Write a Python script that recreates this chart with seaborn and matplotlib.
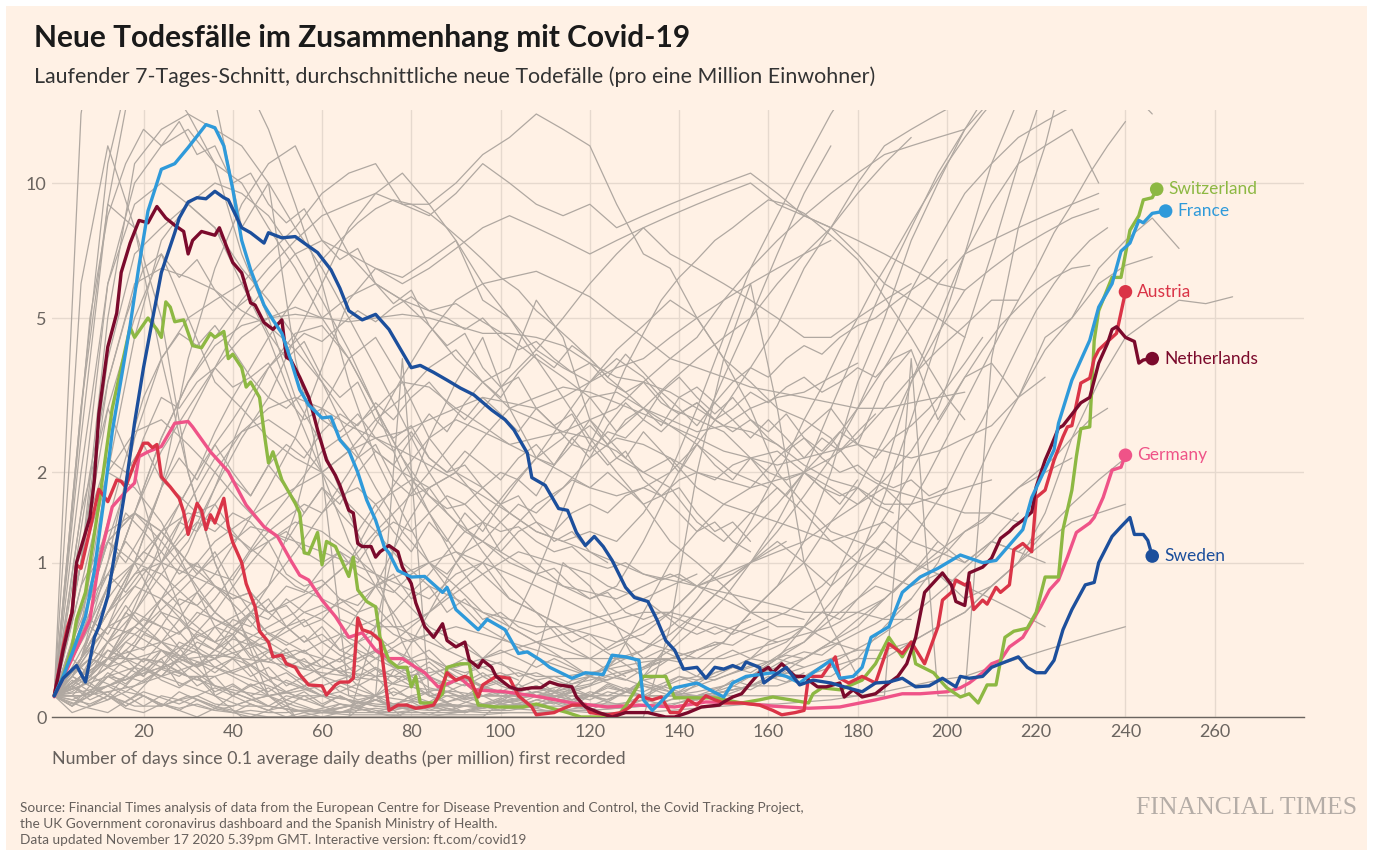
import numpy as np
import pandas as pd
import matplotlib
matplotlib.use('Agg')
import matplotlib.pyplot as plt
import seaborn as sns
from matplotlib.patches import Rectangle

# highlighted countries: (day, 7-day avg deaths per million)
switzerland = [(0, 0.1), (2, 0.2), (4, 0.37), (5, 0.55), (7, 0.75), (10, 1.6), (13, 3.0), (17, 4.75), (18, 4.5),
               (21, 5.0), (23, 4.7), (24, 4.5), (25, 5.45), (26, 5.3), (27, 4.9), (29, 4.95), (31, 4.3), (33, 4.25),
               (35, 4.6), (36, 4.5), (38, 4.65), (39, 4.0), (40, 4.1), (42, 3.8), (43, 3.4), (44, 3.5), (46, 3.2),
               (47, 2.6), (48, 2.13), (49, 2.29), (51, 1.9), (54, 1.61), (55, 1.5), (56, 1.09), (57, 1.08), (59, 1.29),
               (60, 0.98), (61, 1.2), (63, 1.15), (66, 0.88), (67, 1.05), (68, 0.77), (70, 0.68), (72, 0.64),
               (73, 0.43), (75, 0.29), (77, 0.25), (79, 0.25), (80, 0.145), (81, 0.2), (82, 0.065), (85, 0.065),
               (87, 0.11), (88, 0.25), (91, 0.27), (93, 0.27), (94, 0.13), (95, 0.055), (99, 0.046), (105, 0.046),
               (108, 0.06), (115, 0.02), (118, 0.0), (121, 0.0), (126, 0.0), (128, 0.05), (132, 0.2), (137, 0.2),
               (139, 0.09), (143, 0.09), (148, 0.09), (154, 0.065), (158, 0.08), (161, 0.094), (165, 0.08),
               (169, 0.065), (170, 0.11), (172, 0.14), (176, 0.13), (181, 0.18), (184, 0.27), (187, 0.43),
               (190, 0.31), (192, 0.4), (193, 0.27), (197, 0.22), (199, 0.165), (200, 0.14), (203, 0.094),
               (205, 0.11), (207, 0.065), (209, 0.155), (211, 0.155), (213, 0.43), (215, 0.47), (218, 0.49),
               (220, 0.6), (222, 0.875), (225, 0.875), (226, 1.32), (228, 1.77), (229, 2.22), (230, 2.65),
               (232, 2.68), (233, 4.43), (234, 5.2), (237, 6.2), (239, 6.2), (240, 7.0), (241, 7.9), (243, 8.5),
               (244, 9.2), (246, 9.3), (247, 9.7)]

france = [(0, 0.1), (2, 0.2), (4, 0.33), (7, 0.57), (9, 0.93), (11, 1.6), (13, 2.6), (17, 4.8), (19, 6.6),
          (21, 8.7), (24, 10.7), (27, 11.0), (30, 11.9), (34, 13.3), (36, 13.1), (38, 12.0), (40, 9.7), (42, 7.5),
          (44, 6.45), (47, 5.36), (49, 4.95), (51, 4.6), (53, 3.97), (55, 3.35), (57, 3.06), (60, 2.83),
          (62, 2.85), (64, 2.47), (66, 2.31), (68, 2.0), (70, 1.65), (72, 1.42), (74, 1.14), (75, 1.09),
          (77, 0.93), (80, 0.875), (83, 0.88), (87, 0.75), (88, 0.79), (90, 0.62), (95, 0.48), (97, 0.55),
          (101, 0.48), (104, 0.33), (106, 0.34), (109, 0.29), (111, 0.25), (116, 0.19), (119, 0.22), (123, 0.21),
          (125, 0.32), (128, 0.31), (131, 0.29), (132, 0.08), (134, 0.03), (137, 0.094), (139, 0.14),
          (144, 0.165), (146, 0.14), (150, 0.094), (152, 0.165), (155, 0.2), (161, 0.22), (164, 0.2),
          (167, 0.165), (170, 0.22), (174, 0.29), (176, 0.19), (179, 0.2), (181, 0.25), (183, 0.43), (187, 0.5),
          (190, 0.75), (194, 0.875), (198, 0.95), (203, 1.07), (208, 1.0), (211, 1.02), (217, 1.32), (219, 1.68),
          (224, 2.32), (225, 2.74), (228, 3.54), (232, 4.43), (234, 5.3), (237, 6.0), (239, 7.1), (241, 7.4),
          (243, 8.3), (244, 8.2), (246, 8.6), (249, 8.7)]

austria = [(0, 0.1), (2, 0.37), (3, 0.5), (4, 0.6), (5, 0.98), (6, 0.95), (8, 1.32), (10, 1.78), (12, 1.63),
           (14, 1.9), (15, 1.88), (16, 1.81), (18, 2.13), (20, 2.42), (21, 2.42), (22, 2.35), (23, 2.4), (24, 1.94),
           (26, 1.81), (28, 1.67), (29, 1.51), (30, 1.27), (32, 1.61), (33, 1.53), (34, 1.32), (35, 1.48),
           (36, 1.39), (38, 1.67), (39, 1.35), (40, 1.19), (42, 1.0), (43, 0.82), (45, 0.64), (46, 0.47),
           (48, 0.4), (49, 0.31), (51, 0.32), (52, 0.27), (54, 0.25), (55, 0.21), (57, 0.155), (60, 0.15),
           (61, 0.104), (63, 0.155), (64, 0.17), (66, 0.17), (67, 0.19), (68, 0.56), (69, 0.48), (71, 0.46),
           (73, 0.41), (75, 0.03), (77, 0.055), (79, 0.055), (81, 0.04), (83, 0.046), (85, 0.055), (86, 0.094),
           (88, 0.22), (90, 0.18), (92, 0.2), (93, 0.19), (95, 0.094), (96, 0.155), (99, 0.2), (102, 0.19),
           (104, 0.1), (107, 0.046), (108, 0.01), (112, 0.02), (113, 0.03), (116, 0.055), (119, 0.055),
           (120, 0.02), (124, 0.01), (127, 0.02), (129, 0.046), (131, 0.1), (134, 0.08), (136, 0.094), (138, 0.02),
           (140, 0.02), (142, 0.08), (144, 0.055), (146, 0.1), (148, 0.08), (150, 0.065), (154, 0.065),
           (158, 0.055), (161, 0.03), (163, 0.01), (166, 0.02), (168, 0.03), (169, 0.2), (172, 0.2), (175, 0.31),
           (176, 0.19), (178, 0.165), (181, 0.2), (184, 0.165), (187, 0.39), (190, 0.33), (192, 0.4), (195, 0.27),
           (198, 0.5), (199, 0.69), (201, 0.75), (202, 0.85), (204, 0.81), (205, 0.83), (206, 0.62), (208, 0.69),
           (209, 0.66), (211, 0.79), (212, 0.75), (214, 0.81), (215, 1.12), (217, 1.18), (219, 1.1), (220, 1.68),
           (222, 1.77), (224, 2.17), (226, 2.52), (227, 2.68), (228, 2.7), (230, 3.48), (232, 3.58), (233, 4.0),
           (234, 4.2), (236, 4.4), (238, 4.6), (240, 5.75)]

netherlands = [(0, 0.1), (2, 0.35), (4, 0.6), (5, 1.0), (8, 1.45), (9, 1.9), (10, 2.9), (12, 4.27), (14, 5.13),
               (15, 6.36), (17, 7.4), (19, 8.3), (21, 8.2), (23, 8.9), (25, 8.4), (27, 8.1), (29, 7.85), (30, 7.0),
               (31, 7.5), (33, 7.85), (36, 7.7), (37, 8.0), (39, 7.1), (40, 6.7), (42, 6.35), (44, 5.42),
               (45, 5.36), (47, 4.88), (49, 4.7), (51, 4.95), (52, 4.03), (53, 3.97), (55, 3.6), (57, 3.21),
               (58, 2.92), (59, 2.63), (61, 2.17), (63, 1.96), (64, 1.83), (66, 1.53), (67, 1.5), (68, 1.18),
               (69, 1.15), (71, 1.15), (72, 1.05), (73, 1.1), (75, 1.16), (77, 1.1), (78, 0.96), (80, 0.82),
               (81, 0.67), (83, 0.5), (85, 0.43), (87, 0.52), (88, 0.41), (90, 0.37), (92, 0.4), (93, 0.29),
               (95, 0.25), (96, 0.29), (98, 0.25), (99, 0.2), (102, 0.145), (104, 0.13), (107, 0.14), (109, 0.14),
               (111, 0.17), (113, 0.155), (116, 0.145), (117, 0.094), (119, 0.046), (122, 0.02), (125, 0.0),
               (128, 0.02), (133, 0.02), (137, 0.0), (139, 0.0), (142, 0.02), (145, 0.046), (149, 0.055), (150, 0.07),
               (152, 0.094), (154, 0.11), (156, 0.165), (158, 0.22), (160, 0.25), (161, 0.22), (163, 0.27),
               (166, 0.2), (168, 0.2), (169, 0.18), (171, 0.145), (173, 0.145), (176, 0.165), (177, 0.094),
               (179, 0.13), (181, 0.094), (184, 0.11), (187, 0.165), (189, 0.2), (191, 0.27), (193, 0.43),
               (195, 0.75), (199, 0.91), (201, 0.81), (202, 0.68), (204, 0.65), (205, 0.91), (208, 0.96),
               (210, 1.04), (212, 1.23), (214, 1.3), (215, 1.35), (217, 1.42), (219, 1.51), (220, 1.81), (222, 2.17),
               (223, 2.32), (225, 2.66), (226, 2.7), (230, 3.1), (232, 3.2), (234, 3.9), (236, 4.36), (237, 4.7),
               (238, 4.77), (240, 4.5), (242, 4.4), (243, 3.9), (244, 3.97), (246, 4.0)]

germany = [(0, 0.095), (4, 0.3), (8, 0.55), (10, 1.0), (13, 1.57), (16, 1.75), (18, 1.86), (19, 2.22), (21, 2.29),
           (24, 2.37), (27, 2.74), (30, 2.77), (31, 2.68), (35, 2.29), (39, 2.01), (43, 1.59), (47, 1.35),
           (50, 1.25), (53, 1.02), (55, 0.89), (57, 0.85), (60, 0.69), (63, 0.57), (66, 0.43), (69, 0.46),
           (72, 0.35), (75, 0.3), (78, 0.3), (81, 0.25), (83, 0.22), (86, 0.145), (88, 0.16), (91, 0.19),
           (94, 0.13), (101, 0.12), (109, 0.094), (116, 0.065), (124, 0.046), (131, 0.055), (139, 0.046),
           (146, 0.07), (154, 0.065), (161, 0.05), (169, 0.04), (176, 0.046), (184, 0.08), (190, 0.11),
           (194, 0.11), (200, 0.12), (203, 0.14), (205, 0.165), (208, 0.22), (210, 0.27), (212, 0.29), (214, 0.37),
           (217, 0.43), (219, 0.53), (221, 0.64), (223, 0.77), (225, 0.85), (227, 1.05), (229, 1.29), (232, 1.39),
           (233, 1.45), (235, 1.68), (237, 2.03), (239, 2.07), (240, 2.24)]

sweden = [(0, 0.1), (2, 0.19), (5, 0.26), (7, 0.17), (9, 0.43), (10, 0.5), (12, 0.72), (14, 1.2), (16, 1.81),
          (18, 2.75), (20, 3.8), (22, 4.95), (24, 6.36), (27, 7.8), (28, 8.4), (30, 9.1), (32, 9.3), (34, 9.25),
          (36, 9.6), (38, 9.3), (39, 9.2), (42, 8.0), (44, 7.8), (47, 7.4), (48, 7.8), (51, 7.6), (54, 7.65),
          (56, 7.4), (59, 7.05), (62, 6.45), (64, 5.86), (66, 5.2), (69, 4.95), (72, 5.1), (75, 4.7), (80, 3.8),
          (82, 3.85), (85, 3.7), (88, 3.54), (91, 3.38), (94, 3.25), (98, 2.97), (101, 2.8), (103, 2.63),
          (106, 2.27), (107, 1.93), (110, 1.83), (113, 1.55), (115, 1.53), (117, 1.29), (119, 1.16), (121, 1.25),
          (123, 1.15), (125, 1.02), (128, 0.79), (130, 0.71), (133, 0.68), (135, 0.55), (137, 0.41), (139, 0.35),
          (141, 0.24), (144, 0.25), (146, 0.19), (148, 0.25), (150, 0.24), (152, 0.26), (154, 0.24), (155, 0.28),
          (158, 0.25), (159, 0.165), (161, 0.2), (164, 0.25), (167, 0.155), (170, 0.18), (174, 0.165),
          (177, 0.145), (181, 0.12), (184, 0.165), (187, 0.17), (190, 0.19), (193, 0.145), (196, 0.15),
          (199, 0.19), (202, 0.145), (203, 0.2), (205, 0.19), (208, 0.2), (210, 0.25), (212, 0.27), (214, 0.29),
          (216, 0.31), (218, 0.25), (220, 0.22), (222, 0.22), (224, 0.29), (226, 0.48), (228, 0.62), (231, 0.81),
          (233, 0.83), (234, 1.0), (237, 1.25), (239, 1.35), (241, 1.45), (242, 1.27), (244, 1.27), (245, 1.21),
          (246, 1.06)]

highlight_names = ['Switzerland', 'France', 'Austria', 'Netherlands', 'Germany', 'Sweden']
highlight_colors = ['#8db843', '#2f9ada', '#da3447', '#7b0a2c', '#ef5388', '#1c4f9c']

# other countries, one value every 6 days from day 0
bg_step = 6
bg_01 = [0.1, 2.5, 9, 18, 24, 26, 22, 17, 13, 9, 6, 3.5, 2.2, 1.5, 1.0, 0.7, 0.5, 0.4, 0.35, 0.3, 0.3, 0.4, 0.5,
         0.6, 0.8, 0.9, 1.0, 1.1, 1.2, 1.4, 1.6, 1.9, 2.3, 3.0, 4.5, 7, 11, 16, 19, 18, 16, 14]
bg_02 = [0.1, 3, 11, 19, 17, 14, 11, 7, 5, 3.2, 2.4, 1.5, 0.9, 0.4, 0.1, 0.05, 0.1, 0.1, 0.1, 0.1, 0.15, 0.3, 0.6,
         1.0, 1.3, 1.6, 1.8, 2.2, 2.6, 3.0, 2.4, 3.5, 4.2, 2.8, 3.6, 3.9, 3.2, 4.5, 5.0, 6.5, 7.5, 8.4, 7.2]
bg_03 = [0.1, 1.5, 6, 10, 12, 13, 11, 10, 8, 6.5, 5, 4, 3, 2.2, 1.5, 1.0, 0.7, 0.5, 0.4, 0.3, 0.2, 0.15, 0.1, 0.1,
         0.1, 0.12, 0.15, 0.15, 0.2, 0.2, 0.3, 0.3, 0.4, 0.5, 0.6, 0.8, 1.0, 1.5, 2.5, 3.5, 4.5, 5.0, 5.5, 5.4, 5.6]
bg_04 = [0.1, 1, 5, 11, 13, 14, 13, 12, 10, 8, 6.5, 5, 3.8, 2.8, 2.0, 1.5, 1.1, 0.8, 0.6, 0.4, 0.3, 0.2, 0.15, 0.12,
         0.1, 0.12, 0.15, 0.2, 0.2, 0.25, 0.3, 0.5, 0.7, 1.0, 1.6, 2.4, 3.2, 4.2, 5.0, 6.0, 6.6, 6.9]
bg_05 = [0.1, 14, 30, 30, 20, 25, 15, 8, 10, 4, 2, 0.1, 0.1, 4, 0.1, 0.1, 0.1, 0.1, 0.1, 0.1, 0.1, 0.1, 0.1, 0.1,
         0.1, 0.1, 0.1, 0.1, 0.1, 0.1, 0.1, 0.1, 4, 0.1, 0.1, 4, 8, 12, 20, 15, 25, 30]
bg_06 = [0.1, 1, 4, 7, 8, 9, 8, 6, 4.5, 3, 2, 1.2, 0.8, 0.5, 0.3, 0.2, 0.15, 0.1, 0.1, 0.05, 0.05, 0.05, 0.1, 0.1,
         0.15, 0.2, 0.25, 0.3, 0.5, 0.8, 1.0, 1.2, 1.0, 0.9, 0.7, 0.8, 1.0, 1.3, 1.6, 1.9, 2.2]
bg_10 = [0.1, 0.3, 1.0, 2.5, 4, 5, 5.5, 6, 7, 8, 9.5, 10.5, 11, 9, 9, 10, 11.5, 12.5, 14, 13, 12, 9, 7, 6.5, 5, 4,
         3.5, 3, 2.8, 2.5, 2.0, 1.8, 1.7, 1.6, 1.5, 1.5, 1.4]
bg_11 = [0.1, 0.3, 0.8, 1.5, 2.5, 3.5, 4.3, 4.8, 5.0, 5.1, 5.0, 4.9, 5.0, 5.1, 5.0, 4.8, 4.6, 4.6, 4.5, 4.3, 3.9,
         3.6, 3.5, 3.3, 3.0, 2.7, 2.6, 2.4, 2.1, 1.9, 1.8, 1.6, 1.6, 1.7, 1.8, 1.9]
bg_12 = [0.1, 0.3, 0.8, 1.5, 2.3, 3.0, 3.8, 4.5, 5.0, 5.3, 5.0, 5.6, 6.0, 5.5, 5.2, 5.4, 4.9, 4.5, 4.0, 3.6, 3.2,
         3.3, 3.0, 2.8, 2.6, 2.7, 3.0, 3.2, 3.3, 3.6, 3.9]
bg_13 = [0.1, 0.3, 0.6, 1.0, 1.8, 4, 6.5, 9, 11, 12, 9, 7, 6, 5.5, 4.8, 4.0, 3.5, 3.0, 2.8, 2.6, 2.5, 2.3, 2.0,
         2.2, 1.8, 1.6, 1.5, 1.4, 1.3, 1.2, 1.3, 1.4, 1.2, 1.1, 1.0, 1.2, 1.1, 1.0]
bg_14 = [0.1, 0.2, 0.4, 0.6, 0.9, 1.2, 1.8, 2.5, 3.2, 4.5, 6, 8, 9.5, 10.5, 9, 7.5, 6, 5, 4, 3.2, 2.5, 2.0, 1.6,
         1.2, 1.0, 0.8, 0.6, 0.5, 0.5, 0.4, 0.35]
bg_15 = [0.1, 1, 3, 5, 7, 5, 3.5, 3, 2.5, 2.2, 2.0, 2.3, 2.8, 3.2, 3.8, 4.2, 3.5, 3.8, 5.5, 4.5, 2.8, 2.2, 2.0, 1.8,
         1.4, 1.2, 1.5, 1.8, 1.5, 1.2, 1.0, 0.9, 0.8, 0.9, 0.8, 0.7, 0.6, 0.5]
bg_16 = [0.1, 0.1, 0.15, 0.2, 0.3, 0.4, 0.5, 0.6, 0.8, 1.1, 1.5, 2.0, 2.7, 3.6, 4.6, 5.5, 6.0, 6.2, 6.4, 6.0, 5.6,
         5.0, 4.5, 4.0, 3.8, 3.6, 3.4, 3.3, 3.2, 3.1, 3.0, 3.0, 3.1, 3.2, 3.3]
bg_17 = [0.1, 0.1, 0.12, 0.15, 0.2, 0.25, 0.3, 0.4, 0.5, 0.6, 0.8, 1.0, 1.3, 1.6, 2.0, 2.5, 3.0, 3.6, 4.2, 5, 6, 7,
         8, 8.5, 9, 9.5, 10, 9, 8.5, 8.0, 7.5, 7.0, 6.5, 6.0, 5.8]
bg_18 = [0.1, 1.0, 3.5, 6.0, 6.5, 6.2, 5.8, 5.2, 4.8, 4.2, 3.5, 2.8, 2.3, 2.0, 1.8, 2.0, 2.5, 3.0, 3.2, 3.4, 3.3,
         3.1, 2.9, 2.7, 2.5, 2.3, 2.2, 2.1, 2.2, 2.3, 2.4, 2.3, 2.2, 2.3, 2.5, 2.7, 3.2, 3.6]
bg_19 = [0.1, 0.6, 1.2, 1.5, 1.3, 1.0, 0.9, 1.3, 1.8, 2.5, 3.8, 5.5, 6.5, 6.2, 6.8, 7.5, 5.5, 5.0, 4.2, 3.8, 3.5,
         4.0, 3.6, 3.0, 2.8, 2.6, 2.2, 2.3, 2.0, 1.8, 1.6, 1.8, 1.5, 1.2, 1.0, 1.2, 1.1, 1.3]
bg_20 = [0.1, 0.2, 0.3, 0.35, 0.4, 0.5, 0.7, 1.0, 1.4, 1.8, 2.3, 2.6, 3.0, 3.5, 3.4, 3.0, 2.7, 2.4, 2.2, 2.0, 1.8,
         1.7, 1.8, 2.0, 2.4, 3.0, 3.8, 4.8, 6.5, 8.0, 9.5, 11, 12.5]
bg_21 = [0.1, 0.3, 0.6, 1.0, 1.3, 1.5, 1.4, 1.2, 1.0, 0.8, 0.7, 0.6, 0.5, 0.5, 0.6, 0.8, 1.0, 1.3, 1.6, 1.8, 2.2,
         2.5, 2.4, 2.2, 2.0, 1.9, 1.8, 1.9, 2.0, 2.2, 2.5, 3.0, 3.6, 4.2, 4.8, 5.5, 5.5]
bg_22 = [0.1, 0.15, 0.2, 0.25, 0.2, 0.15, 0.1, 0.05, 0.05, 0.03, 0.03, 0.02, 0.02, 0.02, 0.02, 0.02, 0.03, 0.03,
         0.05, 0.05, 0.05, 0.05, 0.05, 0.05, 0.1, 0.15, 0.2, 0.3, 0.4, 0.6, 1.0, 1.7, 2.8, 4.5, 7, 11, 15, 19, 22, 23]
bg_24 = [0.1, 0.2, 0.3, 0.3, 0.35, 0.3, 0.25, 0.2, 0.15, 0.1, 0.1, 0.08, 0.06, 0.05, 0.05, 0.05, 0.06, 0.08, 0.1,
         0.12, 0.15, 0.2, 0.25, 0.35, 0.5, 0.7, 1.0, 1.4, 2.0, 3.0, 4.3, 6.0, 8.0, 10.5, 13, 15]
bg_25 = [0.1, 0.3, 0.6, 0.9, 1.0, 0.9, 0.8, 0.7, 0.6, 0.7, 0.8, 1.0, 1.5, 2.0, 2.5, 2.8, 2.6, 2.4, 2.5, 2.6, 2.8,
         3.0, 3.5, 4.0, 4.5, 5.5, 6.5, 7.5, 8.5, 9.5, 10.5, 11.5, 12.0, 12.5, 13]
bg_26 = [0.1, 0.1, 0.15, 0.2, 0.25, 0.2, 0.2, 0.25, 0.3, 0.35, 0.3, 0.5, 0.8, 1.3, 1.8, 2.0, 1.8, 1.5, 1.3, 1.2,
         1.3, 1.2, 1.5, 2.0, 3.0, 4.5, 6.5, 8.5, 11, 14, 17]
bg_27 = [0.1, 1.0, 2.0, 1.8, 1.4, 0.9, 0.5, 0.3, 0.1, 0.05, 0.02, 0.05, 0.1, 0.2, 0.1, 0.05, 0.05, 0.1, 0.15, 0.1,
         0.2, 0.3, 0.2, 0.3, 0.3, 0.4, 0.6, 0.8, 1.2, 2.0, 3.5, 5.0, 7.5, 10, 13, 16, 20]
bg_28 = [0.1, 0.8, 2.0, 2.6, 2.8, 2.4, 2.0, 1.6, 1.3, 1.2, 1.1, 1.0, 0.9, 0.8, 0.7, 0.9, 1.0, 0.7, 0.6, 0.5, 0.4,
         0.3, 0.3, 0.3, 0.35, 0.4, 0.6, 0.8, 1.0, 1.4, 1.8, 2.5, 3.5, 4.6, 5.8, 6.5, 7.2, 7.8, 8.4, 8.8]
bg_29 = [0.1, 0.3, 0.5, 0.6, 0.5, 0.3, 0.15, 0.1, 0.05, 0.03, 0.03, 0.05, 0.1, 0.3, 0.6, 1.0, 1.4, 1.8, 2.2, 2.8,
         3.5, 4.2, 4.8, 5.5, 5.0, 4.0, 3.0, 2.0, 1.6, 1.3, 1.2, 1.1, 1.0]
bg_30 = [0.1, 0.5, 1.2, 1.0, 0.6, 0.4, 0.3, 0.5, 0.8, 1.5, 3.0, 4.0, 4.5, 3.5, 2.5, 2.0, 1.6, 1.3, 1.0, 0.8, 0.7,
         0.8, 1.2, 1.8, 2.5, 3.6, 5, 7, 9.5, 12]
bg_31 = [0.1, 0.3, 0.6, 0.8, 0.7, 0.5, 0.4, 0.3, 0.2, 0.15, 0.1, 0.08, 0.05, 0.04, 0.05, 0.08, 0.1, 0.12, 0.1, 0.08,
         0.06, 0.06, 0.08, 0.1, 0.12, 0.15, 0.2, 0.25, 0.3, 0.4, 0.5, 0.7, 0.9, 1.2]
bg_32 = [0.1, 0.2, 0.4, 0.5, 0.4, 0.35, 0.3, 0.35, 0.4, 0.5, 0.6, 0.7, 0.8, 0.9, 1.0, 1.1, 1.0, 0.9, 0.8, 0.7, 0.6,
         0.5, 0.4, 0.35, 0.3, 0.3, 0.35, 0.4]
bg_33 = [0.1, 0.15, 0.25, 0.3, 0.28, 0.2, 0.15, 0.12, 0.1, 0.12, 0.15, 0.2, 0.3, 0.4, 0.45, 0.5, 0.45, 0.4, 0.3,
         0.25, 0.2]
bg_34 = [0.1, 0.5, 1.2, 1.5, 1.3, 1.0, 0.8, 0.6, 0.4, 0.3, 0.2, 0.15, 0.1, 0.08, 0.06, 0.05, 0.05, 0.04, 0.03, 0.03,
         0.03, 0.04, 0.05, 0.06, 0.08, 0.1, 0.15, 0.2, 0.3, 0.4, 0.55, 0.7, 0.9, 1.1, 1.3, 1.5, 1.8, 2.0, 2.2]
bg_35 = [0.1, 0.12, 0.15, 0.2, 0.25, 0.3, 0.32, 0.3, 0.28, 0.25, 0.22, 0.2, 0.18, 0.15, 0.13, 0.12, 0.1, 0.1, 0.12,
         0.15, 0.18, 0.22, 0.25, 0.3, 0.35, 0.4]
bg_36 = [0.1, 0.05, 0.02, 0.1, 0.25, 0.4, 0.6, 0.9, 1.2, 1.4, 1.3, 1.1, 0.9, 0.7, 0.5, 0.4, 0.3, 0.25, 0.2, 0.2,
         0.22, 0.25, 0.28, 0.3]
bg_37 = [0.1, 0.2, 0.1, 0.05, 0.05, 0.1, 0.05, 0.02, 0, 0, 0.02, 0.05, 0.02, 0, 0, 0.02, 0.05, 0.08, 0.05, 0.03,
         0.05, 0.1, 0.15, 0.1, 0.08, 0.12, 0.2, 0.3, 0.25]
bg_38 = [0.1, 0.4, 0.8, 1.0, 0.9, 0.7, 0.55, 0.45, 0.35, 0.3, 0.25, 0.22, 0.2, 0.2, 0.22, 0.25, 0.3, 0.35, 0.4, 0.45,
         0.5, 0.55, 0.6, 0.6, 0.55, 0.5, 0.45, 0.4, 0.45, 0.5, 0.6, 0.7]
bg_39 = [0.1, 0.15, 0.3, 0.6, 1.0, 1.6, 2.2, 2.6, 2.8, 2.5, 2.0, 1.6, 1.3, 1.0, 0.8, 0.7, 0.6, 0.55, 0.5, 0.5, 0.55,
         0.6, 0.7, 0.8, 0.9]
bg_40 = [0.1, 0.8, 1.3, 1.5, 1.2, 0.9, 0.6, 0.45, 0.3, 0.2, 0.12, 0.08, 0.05, 0.04, 0.03, 0.03, 0.02, 0.02, 0.02,
         0.03, 0.03, 0.04, 0.05, 0.08, 0.1, 0.12, 0.15, 0.2, 0.25, 0.3, 0.35, 0.35, 0.4, 0.5, 0.6, 0.8, 1.0, 1.2, 1.4,
         1.5, 1.6]
bg_41 = [0.1, 0.3, 0.5, 0.45, 0.35, 0.25, 0.15, 0.1, 0.05, 0.03, 0.02, 0.01, 0.01, 0.01, 0.01, 0.01, 0.01, 0.02,
         0.02, 0.03, 0.02, 0.02, 0.02, 0.03, 0.04, 0.05, 0.06, 0.06, 0.07, 0.08, 0.1, 0.12, 0.15, 0.18, 0.2, 0.25, 0.3,
         0.35, 0.4, 0.45, 0.5]
bg_42 = [0.1, 3, 9, 8, 5, 2, 1, 0.5, 0.1, 0, 0, 0, 0.1, 0, 0, 0, 0, 0.1, 0.3, 1.0, 0.8, 0.5, 0.2, 0.4, 0.6, 0.8,
         1.0, 1.2, 1.0, 0.8, 1.3, 2.0, 3.5, 5, 7, 9, 11, 12, 13, 10]
bg_43 = [0.1, 0.2, 0.3, 0.5, 0.7, 0.9, 1.2, 1.4, 1.6, 1.8, 2.0, 2.3, 2.5, 2.6, 2.8, 3.0, 3.2, 3.1, 3.0, 3.2, 3.5,
         3.8, 4.0, 4.5, 5.0, 5.5, 6.0, 6.5, 7.0, 7.5]
bg_44 = [0.1, 0.5, 2.0, 4.5, 7.5, 9.0, 10, 9.5, 8.5, 7, 5.5, 4.2, 3.0, 2.0, 1.5, 1.1, 0.9, 0.7, 0.6, 0.5, 0.45, 0.4,
         0.45, 0.6, 0.8, 1.0, 1.3, 1.6, 2.0, 2.4, 3.0, 3.8, 4.8, 6.0, 7.0, 7.5, 8.0, 8.5, 9.0, 9.5]
bg_45 = [0.1, 2, 6, 9, 10, 9, 8, 6.5, 5.5, 4.5, 3.5, 2.5, 1.8, 1.3, 1.0, 0.8, 0.6, 0.5, 0.4, 0.35, 0.3, 0.3, 0.35,
         0.45, 0.6, 0.8, 1.0, 1.3, 1.7, 2.2, 3.0, 4.2, 5.8, 7.5, 9.5, 11, 12.5, 13.5, 14.5]
bg_46 = [0.1, 1.5, 3, 2, 1, 0.5, 0.1, 0, 0, 0, 0, 0, 0.5, 1.5, 2.5, 3.5, 4.5, 3, 2.2, 2.5, 3.2, 2.6, 3.0, 3.5, 4.0,
         4.5, 5.0, 6.0, 7.0, 8.0, 10.0, 12, 13, 14, 15]
bg_47 = [0.1, 6, 12, 8, 4, 2, 1, 0.5, 0.2, 0, 0, 0, 0, 0, 0, 0, 0, 0, 0, 0, 0, 0, 0, 0.5, 2, 4, 6, 3, 1, 0.5, 0.2]
bg_48 = [0.1, 0.2, 0.4, 0.7, 1.0, 1.4, 2.0, 2.6, 3.0, 3.2, 3.0, 2.7, 2.5, 2.3, 2.1, 1.9, 1.7, 1.5, 1.3, 1.2, 1.1,
         1.0, 0.9, 0.85, 0.8, 0.75, 0.7, 0.65, 0.6, 0.6, 0.6, 0.55, 0.55]
bg_49 = [0.1, 0.15, 0.25, 0.4, 0.7, 1.1, 1.8, 2.8, 3.8, 4.6, 4.8, 4.0, 3.0, 2.2, 1.7, 1.4, 1.2, 1.0, 0.9, 0.8, 0.75,
         0.7, 0.8, 0.9, 0.8, 0.7, 0.6, 0.6, 0.55]
bg_50 = [0.1, 0.3, 0.8, 1.5, 2.5, 3.5, 4.5, 5.5, 6.5, 7.5, 8.5, 9.0, 9.5, 9.0, 8.5, 9.5, 11, 10, 9.0, 8.5, 9.0, 8.0,
         8.5, 9.0, 9.5, 10, 10.5, 9.5, 8.5, 8.0, 7.0, 6.0, 5.5, 5.0, 4.5]
bg_51 = [0.1, 0.2, 0.5, 1.0, 1.8, 2.8, 3.8, 5.0, 6.0, 7.0, 7.5, 7.0, 6.5, 6.0, 6.5, 7.2, 8.0, 8.5, 8.0, 7.5, 7.0,
         7.5, 8.0, 7.0, 6.5, 6.0, 5.5, 5.0, 4.5, 4.5, 5.0, 5.5, 6.0]

# more countries, one value every 4 days from day 0
lo_step = 4
lo_01 = [0.1, 0.3, 0.5, 0.4, 0.6, 0.5, 0.7, 0.6, 0.5, 0.4, 0.45, 0.3, 0.35, 0.25, 0.3, 0.2, 0.25, 0.15, 0.2, 0.1,
         0.15, 0.1, 0.12, 0.08, 0.1, 0.06, 0.08, 0.05, 0.07, 0.05, 0.06]
lo_02 = [0.1, 0.2, 0.35, 0.3, 0.45, 0.55, 0.5, 0.7, 0.65, 0.8, 0.7, 0.75, 0.6, 0.65, 0.5, 0.55, 0.45, 0.4, 0.45,
         0.35, 0.3, 0.35, 0.25, 0.3, 0.2, 0.22, 0.18]
lo_03 = [0.1, 0.15, 0.1, 0.2, 0.15, 0.25, 0.2, 0.3, 0.25, 0.35, 0.3, 0.4, 0.35, 0.3, 0.35, 0.25, 0.3, 0.2, 0.25, 0.2,
         0.15, 0.2, 0.15, 0.1, 0.15, 0.12, 0.1, 0.12, 0.1, 0.08, 0.1, 0.08, 0.12, 0.1]
lo_04 = [0.1, 0.4, 0.9, 1.2, 1.0, 1.3, 1.1, 0.9, 1.0, 0.8, 0.7, 0.75, 0.6, 0.5, 0.55, 0.4, 0.45, 0.35, 0.3, 0.25,
         0.3, 0.2, 0.25, 0.2, 0.15, 0.18, 0.12, 0.15, 0.1]
lo_05 = [0.1, 0.05, 0.15, 0.1, 0.2, 0.3, 0.25, 0.4, 0.35, 0.5, 0.45, 0.6, 0.55, 0.7, 0.6, 0.65, 0.55, 0.5, 0.55,
         0.45, 0.4, 0.45, 0.35, 0.4, 0.3, 0.35, 0.3, 0.25, 0.3, 0.25, 0.2, 0.25, 0.2]
lo_06 = [0.1, 0.2, 0.15, 0.1, 0.05, 0.1, 0.05, 0.08, 0.1, 0.06, 0.05, 0.08, 0.1, 0.12, 0.08, 0.1, 0.06, 0.05, 0.08,
         0.06, 0.04, 0.05, 0.03, 0.05, 0.04, 0.06, 0.05, 0.08, 0.1, 0.12, 0.1, 0.15, 0.12, 0.18, 0.2, 0.25, 0.2, 0.3,
         0.35, 0.3, 0.4, 0.45, 0.5, 0.6, 0.55, 0.7, 0.8, 0.75, 0.9, 1.0, 1.1, 1.3, 1.4, 1.6, 1.8, 2.0, 2.2, 2.5, 2.8,
         3.0]
lo_07 = [0.1, 0.3, 0.2, 0.4, 0.3, 0.2, 0.35, 0.25, 0.15, 0.2, 0.1, 0.15, 0.1, 0.05, 0.1, 0.05, 0.02, 0.05, 0.03,
         0.02, 0.03, 0.05, 0.03, 0.02, 0.04, 0.05, 0.06, 0.05, 0.08, 0.07, 0.1, 0.08, 0.12, 0.1, 0.15, 0.12, 0.18, 0.2,
         0.25, 0.3, 0.28, 0.35, 0.4, 0.5, 0.6, 0.7, 0.85, 1.0, 1.2, 1.5, 1.8, 2.3, 2.8, 3.5, 4.3, 5.2, 6.0, 6.8, 7.5,
         8.0]
lo_08 = [0.1, 0.25, 0.45, 0.7, 0.9, 1.1, 1.0, 1.2, 1.4, 1.3, 1.5, 1.4, 1.2, 1.3, 1.1, 1.0, 1.1, 0.9, 0.8, 0.9, 0.7,
         0.8, 0.6, 0.7, 0.55, 0.6, 0.5, 0.45, 0.5, 0.4, 0.45, 0.35, 0.4, 0.3, 0.35, 0.3]
lo_09 = [0.1, 0.12, 0.18, 0.25, 0.2, 0.3, 0.28, 0.22, 0.18, 0.25, 0.2, 0.15, 0.18, 0.12, 0.15, 0.1, 0.12, 0.08, 0.1,
         0.06, 0.08, 0.05, 0.06, 0.05]
lo_10 = [0.1, 0.6, 1.5, 2.2, 2.0, 2.4, 1.9, 1.7, 1.5, 1.6, 1.3, 1.1, 1.2, 0.9, 0.8, 0.85, 0.7, 0.6, 0.65, 0.5, 0.45,
         0.4, 0.35, 0.3, 0.25, 0.28, 0.2, 0.22, 0.18, 0.15]
lo_11 = [0.1, 0.15, 0.22, 0.3, 0.4, 0.5, 0.62, 0.75, 0.9, 1.05, 1.2, 1.35, 1.3, 1.45, 1.6, 1.5, 1.7, 1.8, 1.6, 1.75,
         1.9, 1.7, 1.55, 1.6, 1.4, 1.3, 1.35, 1.2, 1.1, 1.15, 1.0, 0.95, 1.0, 0.9, 0.85, 0.9, 0.8, 0.85, 0.9, 1.0,
         1.1, 1.2]
lo_12 = [0.1, 0.08, 0.12, 0.2, 0.18, 0.25, 0.35, 0.3, 0.45, 0.4, 0.55, 0.5, 0.65, 0.8, 0.75, 0.95, 1.1, 1.0, 1.25,
         1.4, 1.3, 1.5, 1.7, 1.6, 1.8, 2.0, 1.9, 2.2, 2.1, 2.4, 2.3, 2.6, 2.5, 2.8, 2.6, 2.9, 3.1, 2.8, 3.0, 3.3, 3.1,
         3.4, 3.6, 3.3, 3.5, 3.8, 3.6, 4.0, 4.2]
lo_13 = [0.1, 0.3, 0.7, 1.2, 1.8, 2.5, 3.2, 3.0, 3.5, 3.8, 3.4, 3.6, 3.2, 3.0, 3.3, 2.8, 2.6, 2.9, 2.5, 2.3, 2.6,
         2.2, 2.0, 2.3, 2.1, 1.9, 2.2, 2.4, 2.1, 2.5, 2.7, 2.4, 2.8, 3.0, 2.7, 3.2, 3.4, 3.1, 3.5, 3.8, 3.6, 4.0, 4.3,
         4.1, 4.5, 4.8, 5.0, 5.4, 5.8, 6.2, 6.8]
lo_14 = [0.1, 0.2, 0.4, 0.6, 0.8, 1.0, 1.3, 1.6, 2.0, 2.4, 2.8, 3.3, 3.8, 4.2, 4.6, 4.4, 4.8, 5.2, 4.9, 5.3, 5.6,
         5.2, 5.0, 4.7, 5.0, 4.5, 4.2, 4.4, 4.0, 3.7, 3.9, 3.5, 3.3, 3.5, 3.1, 2.9, 3.1, 2.8, 2.6, 2.8, 2.5, 2.3, 2.5,
         2.2, 2.0, 2.1, 1.9, 1.8, 1.9, 1.7, 1.8]
lo_15 = [0.1, 0.25, 0.2, 0.35, 0.3, 0.45, 0.4, 0.3, 0.35, 0.25, 0.3, 0.2, 0.25, 0.15, 0.2, 0.25, 0.3, 0.4, 0.5, 0.6,
         0.75, 0.9, 1.1, 1.3, 1.2, 1.4, 1.6, 1.5, 1.7, 1.9, 1.8, 2.0, 1.8, 1.6, 1.7, 1.5, 1.3, 1.4, 1.2, 1.1]
lo_16 = [0.1, 0.1, 0.05, 0.08, 0.12, 0.1, 0.06, 0.04, 0.06, 0.03, 0.02, 0.03, 0.02, 0.02, 0.03, 0.02, 0.02, 0.03,
         0.04, 0.03, 0.05, 0.04, 0.06, 0.05, 0.04, 0.06, 0.08, 0.06, 0.1, 0.08, 0.12, 0.1, 0.14, 0.12, 0.16, 0.2, 0.18,
         0.22, 0.25, 0.3, 0.35, 0.4, 0.5, 0.6, 0.75, 0.9, 1.1, 1.35, 1.6, 2.0, 2.5, 3.1, 3.8, 4.6, 5.5, 6.5, 7.8, 9.0,
         10.5, 12, 13.5]
lo_17 = [0.1, 0.4, 0.8, 1.4, 2.2, 3.2, 4.0, 4.6, 4.3, 4.8, 4.2, 3.6, 3.9, 3.2, 2.8, 3.0, 2.5, 2.2, 2.4, 1.9, 1.7,
         1.8, 1.5, 1.3, 1.4, 1.1, 1.0, 0.9, 0.95, 0.8, 0.7, 0.75, 0.6, 0.55, 0.6, 0.5, 0.45, 0.5, 0.45, 0.5, 0.55, 0.6,
         0.7, 0.8, 0.95, 1.1, 1.3, 1.6, 2.0, 2.5, 3.0, 3.6, 4.2, 4.8, 5.3, 5.8, 6.2, 6.5, 6.6]
lo_18 = [0.1, 0.2, 0.3, 0.25, 0.4, 0.35, 0.5, 0.45, 0.6, 0.55, 0.5, 0.6, 0.45, 0.5, 0.4, 0.45, 0.35, 0.4, 0.3, 0.35,
         0.28, 0.3, 0.25, 0.22, 0.25, 0.2, 0.22, 0.18, 0.2, 0.16, 0.2, 0.18, 0.22, 0.25, 0.3, 0.28, 0.35, 0.4, 0.38,
         0.45, 0.5]
lo_19 = [0.1, 0.8, 2.0, 3.5, 5.0, 6.5, 7.0, 6.2, 6.8, 5.8, 5.2, 5.6, 4.6, 4.0, 4.4, 3.6, 3.2, 3.5, 2.8, 2.5, 2.7,
         2.2, 2.0, 2.1, 1.8, 1.6, 1.7, 1.4, 1.2, 1.3, 1.1, 1.0]
lo_20 = [0.1, 1.5, 5.0, 8.5, 11, 13, 12, 13.5, 11.5, 12, 10, 10.5, 9, 8.2, 8.8, 7.5, 6.8, 7.2, 6.0, 5.4, 5.8, 4.8,
         4.3, 4.6, 3.8, 3.4, 3.6, 3.0, 2.7, 2.9, 2.4, 2.1, 2.3, 1.9, 1.7, 1.8, 1.5, 1.3, 1.4, 1.2]
lo_21 = [0.1, 0.15, 0.1, 0.2, 0.3, 0.25, 0.2, 0.3, 0.4, 0.35, 0.5, 0.45, 0.4, 0.5, 0.6, 0.55, 0.7, 0.65, 0.8, 0.75,
         0.9, 1.0, 0.9, 1.1, 1.2, 1.1, 1.3, 1.4, 1.3, 1.5, 1.6, 1.5, 1.7, 1.8, 1.7, 1.9, 2.0, 1.9, 2.1, 2.2, 2.0, 1.9,
         2.0, 1.8, 1.7, 1.8, 1.6, 1.5]
lo_22 = [0.1, 0.05, 0.1, 0.15, 0.1, 0.05, 0.1, 0.08, 0.05, 0.03, 0.05, 0.08, 0.1, 0.12, 0.15, 0.2, 0.25, 0.3, 0.35,
         0.4, 0.5, 0.6, 0.7, 0.8, 0.9, 1.0, 1.1, 1.05, 1.0, 0.95, 0.9, 0.8, 0.75, 0.7, 0.6, 0.55, 0.5, 0.45, 0.5, 0.55]
lo_23 = [0.1, 0.1, 0.2, 0.3, 0.5, 0.8, 1.2, 1.6, 2.0, 2.6, 3.2, 3.8, 4.5, 5.2, 6.0, 6.8, 7.5, 8.2, 8.8, 9.2, 9.0,
         8.6, 8.0, 7.4, 6.8, 6.2, 5.8, 5.2, 4.8, 4.4, 4.0, 3.6, 3.3, 3.0, 2.8, 2.6, 2.4, 2.2, 2.0, 1.9, 1.8]
lo_24 = [0.1, 0.3, 0.6, 0.9, 1.2, 1.0, 1.3, 1.1, 0.9, 1.1, 0.8, 0.6, 0.7, 0.5, 0.4, 0.5, 0.35, 0.3, 0.35, 0.25, 0.2,
         0.25, 0.18, 0.15, 0.2, 0.15, 0.12, 0.15, 0.12, 0.18, 0.2, 0.25, 0.3, 0.35, 0.45, 0.55, 0.7, 0.9, 1.1, 1.4,
         1.8, 2.2, 2.8, 3.4, 4.2, 5.0, 6.0, 7.0, 8.2, 9.5, 11, 12.5, 14, 15.5]
lo_25 = [0.1, 0.2, 0.15, 0.3, 0.25, 0.2, 0.3, 0.15, 0.2, 0.1, 0.15, 0.1, 0.05, 0.1, 0.08, 0.05, 0.1, 0.06, 0.08,
         0.05, 0.1, 0.12, 0.15, 0.2, 0.3, 0.4, 0.6, 0.9, 1.3, 1.8, 2.4, 3.0, 3.8, 4.6, 5.5, 6.2, 6.8, 7.5, 8.0, 8.6,
         9.2, 9.0, 8.6, 8.0, 7.4, 6.8, 6.0, 5.2, 4.5, 3.8, 3.2, 2.8]
lo_26 = [0.1, 0.05, 0.12, 0.08, 0.15, 0.1, 0.05, 0.12, 0.08, 0.04, 0.1, 0.06, 0.03, 0.08, 0.05, 0.02, 0.06, 0.04,
         0.02, 0.05, 0.03, 0.06, 0.04, 0.02, 0.05, 0.03, 0.06, 0.04, 0.08, 0.05, 0.1, 0.07, 0.12, 0.09, 0.14, 0.1,
         0.16, 0.12, 0.18, 0.15, 0.2, 0.17, 0.22]
lo_27 = [0.1, 0.18, 0.12, 0.22, 0.16, 0.25, 0.18, 0.14, 0.2, 0.12, 0.16, 0.1, 0.14, 0.08, 0.12, 0.06, 0.1, 0.05,
         0.08, 0.04, 0.07, 0.03, 0.06, 0.02, 0.05, 0.03]
lo_28 = [0.1, 0.22, 0.3, 0.26, 0.35, 0.28, 0.4, 0.32, 0.25, 0.3, 0.22, 0.26, 0.18, 0.22, 0.15, 0.2, 0.12, 0.16, 0.1,
         0.14, 0.08, 0.12, 0.07, 0.1, 0.06, 0.09, 0.05, 0.08, 0.06, 0.1, 0.08, 0.12, 0.1]
lo_29 = [0.1, 0.08, 0.06, 0.1, 0.07, 0.12, 0.09, 0.06, 0.1, 0.14, 0.1, 0.16, 0.12, 0.18, 0.14, 0.1, 0.15, 0.11,
         0.08, 0.12, 0.09, 0.06, 0.1, 0.07, 0.05, 0.08, 0.06, 0.1, 0.08, 0.12, 0.1, 0.14, 0.12, 0.16, 0.14, 0.18, 0.2,
         0.18, 0.22, 0.26, 0.24, 0.3, 0.34, 0.32, 0.4, 0.46, 0.52, 0.6, 0.7]
lo_30 = [0.1, 0.35, 0.55, 0.45, 0.65, 0.5, 0.4, 0.55, 0.42, 0.35, 0.45, 0.32, 0.28, 0.36, 0.25, 0.3, 0.22, 0.18,
         0.24, 0.16, 0.2, 0.14, 0.12, 0.16, 0.1, 0.13, 0.09]
lo_31 = [0.1, 0.14, 0.2, 0.16, 0.12, 0.18, 0.24, 0.2, 0.28, 0.22, 0.3, 0.26, 0.34, 0.28, 0.24, 0.3, 0.22, 0.26, 0.2,
         0.24, 0.18, 0.2, 0.16, 0.19, 0.14, 0.17, 0.13, 0.15, 0.12, 0.14, 0.16, 0.2, 0.18, 0.24, 0.28]
lo_32 = [0.1, 0.02, 0.05, 0.1, 0.04, 0.02, 0.06, 0.03, 0.0, 0.04, 0.02, 0.0, 0.03, 0.0, 0.02, 0.0, 0.02, 0.04, 0.02,
         0.0, 0.03, 0.01, 0.04, 0.02, 0.05, 0.03, 0.06, 0.04, 0.02, 0.05, 0.03, 0.07, 0.05, 0.08, 0.06, 0.1, 0.08,
         0.12, 0.15, 0.13, 0.18, 0.22, 0.2, 0.26, 0.3, 0.36, 0.42, 0.5, 0.58, 0.68, 0.8, 0.95, 1.1, 1.3, 1.5]
lo_33 = [0.1, 0.4, 0.7, 0.9, 0.75, 0.95, 0.8, 0.65, 0.75, 0.6, 0.5, 0.58, 0.45, 0.38, 0.44, 0.32, 0.28, 0.34, 0.24,
         0.2, 0.26, 0.18, 0.15, 0.2, 0.14, 0.12, 0.16, 0.1, 0.13, 0.08, 0.11]
lo_34 = [0.1, 0.06, 0.1, 0.15, 0.2, 0.17, 0.24, 0.3, 0.26, 0.35, 0.42, 0.38, 0.46, 0.4, 0.34, 0.4, 0.32, 0.28, 0.34,
         0.26, 0.22, 0.28, 0.2, 0.17, 0.22, 0.16, 0.14, 0.18, 0.12, 0.15]
lo_35 = [0.1, 0.15, 0.08, 0.12, 0.05, 0.1, 0.06, 0.03, 0.08, 0.05, 0.02, 0.06, 0.03, 0.05, 0.02, 0.04, 0.06, 0.04,
         0.08, 0.05, 0.1, 0.07, 0.12, 0.09, 0.14, 0.1, 0.08, 0.12, 0.09, 0.14, 0.1, 0.16, 0.12, 0.18, 0.14, 0.2, 0.16,
         0.22, 0.25, 0.22, 0.28, 0.32, 0.3, 0.36, 0.4]
lo_36 = [0.1, 0.2, 0.35, 0.5, 0.7, 0.9, 1.1, 1.4, 1.3, 1.6, 1.9, 1.7, 2.1, 2.4, 2.2, 2.6, 2.9, 2.7, 3.1, 2.8, 3.2,
         3.5, 3.1, 2.8, 3.2, 2.9, 2.6, 3.0, 2.7, 2.4, 2.8, 2.5, 2.2, 2.6, 2.3, 2.0, 2.4, 2.1, 1.9, 2.2, 1.9, 1.7, 2.0,
         1.8, 1.6, 1.9]
lo_37 = [0.1, 0.15, 0.25, 0.35, 0.3, 0.45, 0.6, 0.55, 0.75, 0.9, 0.85, 1.1, 1.3, 1.2, 1.5, 1.8, 1.6, 2.0, 2.3, 2.1,
         2.5, 2.9, 2.6, 3.1, 3.5, 3.2, 3.7, 4.1, 3.8, 4.3, 4.0, 3.6, 4.1, 3.7, 3.3, 3.6, 3.2, 2.9, 3.2, 2.8, 2.6, 2.9,
         2.5, 2.3, 2.6, 2.4, 2.2, 2.5, 2.7, 3.0, 3.4, 3.9, 4.5]
lo_38 = [0.1, 0.3, 0.6, 1.0, 1.5, 1.3, 1.8, 2.2, 1.9, 2.4, 2.0, 1.7, 2.1, 1.8, 1.5, 1.8, 1.5, 1.3, 1.6, 1.3, 1.1,
         1.4, 1.2, 1.5, 1.3, 1.6, 1.9, 1.7, 2.1, 2.5, 2.2, 2.7, 3.1, 2.8, 3.3, 3.0, 2.7, 3.1, 2.8, 2.5, 2.8, 2.5, 2.2,
         2.5, 2.3, 2.6, 2.9]

background = [bg_01, bg_02, bg_03, bg_04, bg_05, bg_06, bg_10, bg_11, bg_12, bg_13, bg_14, bg_15, bg_16, bg_17,
              bg_18, bg_19, bg_20, bg_21, bg_22, bg_24, bg_25, bg_26, bg_27, bg_28, bg_29, bg_30, bg_31, bg_32,
              bg_33, bg_34, bg_35, bg_36, bg_37, bg_38, bg_39, bg_40, bg_41, bg_42, bg_43, bg_44, bg_45, bg_46,
              bg_47, bg_48, bg_49, bg_50, bg_51]
background_fine = [lo_01, lo_02, lo_03, lo_04, lo_05, lo_06, lo_07, lo_08, lo_09, lo_10, lo_11, lo_12, lo_13,
                   lo_14, lo_15, lo_16, lo_17, lo_18, lo_19, lo_20, lo_21, lo_22, lo_23, lo_24, lo_25, lo_26,
                   lo_27, lo_28, lo_29, lo_30, lo_31, lo_32, lo_33, lo_34, lo_35, lo_36, lo_37, lo_38]

y_ticks = [0, 1, 2, 5, 10]
x_ticks = list(range(20, 261, 20))

title = 'Neue Todesfälle im Zusammenhang mit Covid-19'
subtitle = 'Laufender 7-Tages-Schnitt, durchschnittliche neue Todefälle (pro eine Million Einwohner)'
x_label = 'Number of days since 0.1 average daily deaths (per million) first recorded'
source = ('Source: Financial Times analysis of data from the European Centre for Disease Prevention and Control, '
          'the Covid Tracking Project,\nthe UK Government coronavirus dashboard and the Spanish Ministry of Health.\n'
          'Data updated November 17 2020 5.39pm GMT. Interactive version: ft.com/covid19')

# long tables for seaborn
bg_rows = []
for k, vals in enumerate(background):
    for i, v in enumerate(vals):
        bg_rows.append({'country': k, 'day': i * bg_step, 'value': v})
for k, vals in enumerate(background_fine):
    for i, v in enumerate(vals):
        bg_rows.append({'country': 100 + k, 'day': i * lo_step, 'value': v})
bg_df = pd.DataFrame(bg_rows)

hl_series = [switzerland, france, austria, netherlands, germany, sweden]
hl_rows = []
for name, pts in zip(highlight_names, hl_series):
    for d, v in pts:
        hl_rows.append({'country': name, 'day': d, 'value': v})
hl_df = pd.DataFrame(hl_rows)
ends = hl_df.groupby('country', sort=False).tail(1)

sns.set_theme(style='white')
plt.rcParams['font.family'] = ['Lato', 'DejaVu Sans']

W, H = 1373, 856
fig = plt.figure(figsize=(W / 100, H / 100), dpi=100, facecolor='white')
fig.patches.append(Rectangle((6 / W, 6 / H), 1361 / W, 844 / H, transform=fig.transFigure,
                             facecolor='#fff1e5', edgecolor='none', zorder=-5))

ax = fig.add_axes([52 / W, 139 / H, 1252 / W, 607 / H])
ax.set_facecolor('none')
ax.set_yscale('function', functions=(np.log1p, np.expm1))

sns.lineplot(data=bg_df, x='day', y='value', units='country', estimator=None, color='#b0a8a1',
             lw=0.9, ax=ax, legend=False, sort=False, zorder=2)

palette = dict(zip(highlight_names, highlight_colors))
draw_order = ['Germany', 'Switzerland', 'Austria', 'Netherlands', 'France', 'Sweden']
sns.lineplot(data=hl_df, x='day', y='value', hue='country', hue_order=draw_order, palette=palette,
             estimator=None, lw=2.4, ax=ax, legend=False, sort=False, zorder=4)
sns.scatterplot(data=ends, x='day', y='value', hue='country', palette=palette, s=95, linewidth=0,
                ax=ax, legend=False, zorder=5)
for _, r in ends.iterrows():
    ax.annotate(r['country'], (r['day'], r['value']), xytext=(8.5, 0), textcoords='offset points',
                va='center', ha='left', fontsize=12.5, color=palette[r['country']])

ax.set_xlim(-0.5, 280)
ax.set_ylim(0, 14.27)
ax.set_yticks(y_ticks)
ax.set_yticklabels([str(t) for t in y_ticks])
ax.set_xticks(x_ticks)
ax.set_xticklabels([str(t) for t in x_ticks])
ax.minorticks_off()
ax.tick_params(axis='both', length=0, labelsize=13, labelcolor='#6b6560')
ax.tick_params(axis='y', pad=4)
ax.tick_params(axis='x', pad=5)
ax.grid(True, color='#e6d9ce', lw=1)
ax.set_axisbelow(True)
ax.set_xlabel('')
ax.set_ylabel('')
for s in ['top', 'right', 'left']:
    ax.spines[s].set_visible(False)
ax.spines['bottom'].set_color('#6b6560')
ax.spines['bottom'].set_linewidth(1)

fig.text(34 / W, 1 - 38 / H, title, fontsize=21.5, fontweight='bold', color='#1a1a1a', va='center')
fig.text(34 / W, 1 - 77 / H, subtitle, fontsize=15.4, color='#333333', va='center')
fig.text(52 / W, 1 - 759 / H, x_label, fontsize=12.9, color='#66605c', va='center')
fig.text(20 / W, 1 - 824 / H, source, fontsize=9.85, color='#66605c', va='center', linespacing=1.35)
fig.text(1357 / W, 1 - 808 / H, 'FINANCIAL TIMES', family=['Liberation Serif'], fontsize=18.5,
         color='#b5ada7', ha='right', va='center')

fig.savefig('out.png', dpi=100, facecolor='white')
